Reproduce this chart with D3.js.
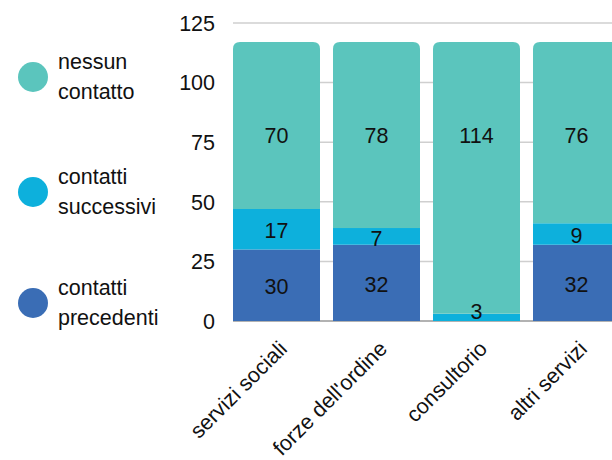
<!DOCTYPE html>
<html>
<head>
<meta charset="utf-8">
<script src="https://cdn.jsdelivr.net/npm/d3@7"></script>
<style>
  body { margin: 0; background: #fff; }
  text { font-family: "Liberation Sans", Arial, sans-serif; fill: #111; }
</style>
</head>
<body>
<svg id="chart" width="612" height="460"></svg>
<script>
// data
var categories = ["servizi sociali", "forze dell'ordine", "consultorio", "altri servizi"];
var seriesNames = ["contatti precedenti", "contatti successivi", "nessun contatto"];
var precedenti = [30, 32, 0, 32];
var successivi = [17, 7, 3, 9];
var nessuno = [70, 78, 114, 76];
var yTicks = [0, 25, 50, 75, 100, 125];
var colors = ["#3a6db5", "#0db0dc", "#5bc5bd"];

var rows = categories.map(function (c, i) {
  return { cat: c, "contatti precedenti": precedenti[i], "contatti successivi": successivi[i], "nessun contatto": nessuno[i] };
});

var svg = d3.select("#chart");
var plotLeft = 233, plotBottom = 321, plotTop = 23;
var fontSize = "21.5px";
var topLabelLevel = 78; // top-segment labels sit on one common line

var x = d3.scaleBand().domain(categories).range([plotLeft, 620]).paddingInner(0.13).paddingOuter(0);
var y = d3.scaleLinear().domain([0, 125]).range([plotBottom, plotTop]);

// grid
svg.append("g").selectAll("line").data(yTicks.slice(1)).enter().append("line")
  .attr("x1", plotLeft).attr("x2", 612)
  .attr("y1", function (d) { return y(d); }).attr("y2", function (d) { return y(d); })
  .attr("stroke", "#cfcfcf").attr("stroke-width", 1.5);
svg.append("line").attr("x1", plotLeft).attr("x2", 612).attr("y1", plotBottom).attr("y2", plotBottom)
  .attr("stroke", "#999").attr("stroke-width", 1.5);

// y labels
svg.append("g").selectAll("text").data(yTicks).enter().append("text")
  .attr("x", 215).attr("y", function (d) { return y(d); }).attr("dy", "0.36em")
  .attr("text-anchor", "end").style("font-size", fontSize)
  .text(function (d) { return d; });

var stack = d3.stack().keys(seriesNames)(rows);
var r = 7;

stack.forEach(function (layer, li) {
  var g = svg.append("g");
  layer.forEach(function (d, i) {
    if (d[1] - d[0] <= 0) return;
    var x0 = x(categories[i]), w = x.bandwidth();
    var y0 = y(d[0]), y1 = y(d[1]);
    if (li === seriesNames.length - 1) {
      g.append("path").attr("fill", colors[li])
        .attr("d", "M" + x0 + "," + y0 + "V" + (y1 + r) + "Q" + x0 + "," + y1 + " " + (x0 + r) + "," + y1 +
          "H" + (x0 + w - r) + "Q" + (x0 + w) + "," + y1 + " " + (x0 + w) + "," + (y1 + r) + "V" + y0 + "Z");
    } else {
      g.append("rect").attr("fill", colors[li])
        .attr("x", x0).attr("width", w).attr("y", y1).attr("height", y0 - y1);
    }
  });
});

// value labels
stack.forEach(function (layer, li) {
  layer.forEach(function (d, i) {
    var v = d[1] - d[0];
    if (v <= 0) return;
    var cy = li === seriesNames.length - 1 ? y(topLabelLevel)
      : Math.min(y((d[0] + d[1]) / 2) + 1.5, plotBottom - 10);
    svg.append("text")
      .attr("x", x(categories[i]) + x.bandwidth() / 2).attr("y", cy).attr("dy", "0.36em")
      .attr("text-anchor", "middle").style("font-size", fontSize)
      .text(v);
  });
});

// x labels
svg.append("g").selectAll("text").data(categories).enter().append("text")
  .attr("text-anchor", "end").style("font-size", fontSize)
  .attr("transform", function (d) {
    return "translate(" + (x(d) + x.bandwidth() / 2 + 12) + "," + 350 + ") rotate(-45)";
  })
  .text(function (d) { return d; });

// legend
var legendItems = [
  { name: ["nessun", "contatto"], color: colors[2], cy: 77 },
  { name: ["contatti", "successivi"], color: colors[1], cy: 192 },
  { name: ["contatti", "precedenti"], color: colors[0], cy: 303 }
];
var lg = svg.append("g").selectAll("g").data(legendItems).enter().append("g");
lg.append("circle").attr("cx", 33).attr("cy", function (d) { return d.cy; }).attr("r", 15)
  .attr("fill", function (d) { return d.color; });
lg.append("text").attr("x", 58).style("font-size", fontSize)
  .attr("y", function (d) { return d.cy - 8; })
  .selectAll("tspan").data(function (d) { return d.name; }).enter().append("tspan")
  .attr("x", 58).attr("dy", function (d, i) { return i === 0 ? 0 : 30; })
  .text(function (d) { return d; });
</script>
</body>
</html>
